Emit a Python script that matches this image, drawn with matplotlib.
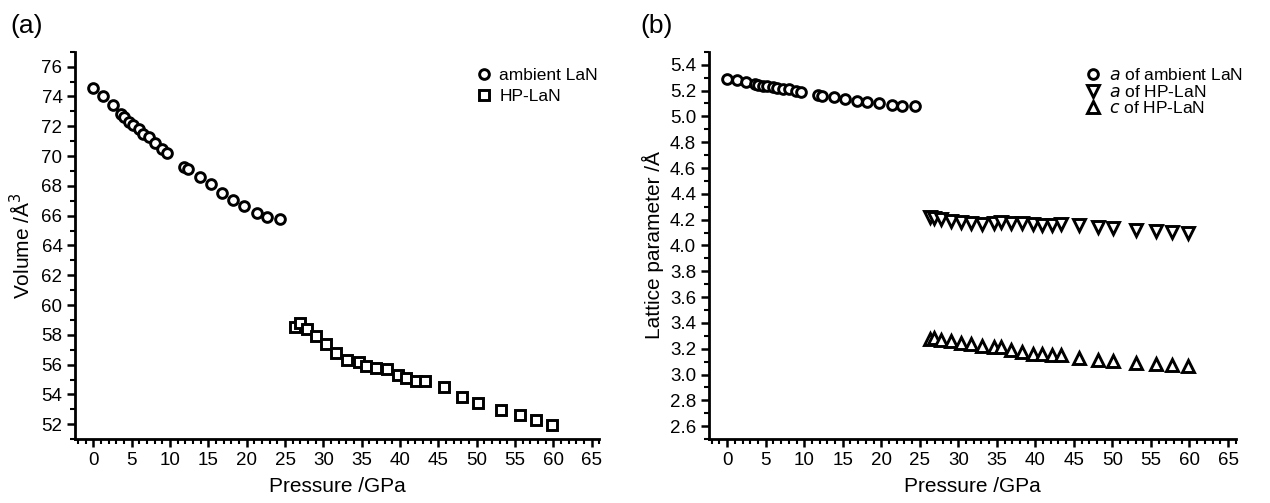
import numpy as np
import matplotlib
matplotlib.use("Agg")
import matplotlib.pyplot as plt
from matplotlib.ticker import MultipleLocator, FormatStrFormatter

plt.rcParams['font.family'] = ['Liberation Sans', 'DejaVu Sans']

# ambient LaN (rocksalt)
p_amb = [0.0, 1.3, 2.5, 3.6, 4.0, 4.7, 5.2, 5.9, 6.5, 7.2, 8.0, 8.9, 9.6,
         11.8, 12.3, 13.9, 15.3, 16.8, 18.2, 19.7, 21.4, 22.7, 24.4]
v_amb = [74.6, 74.0, 73.4, 72.8, 72.6, 72.3, 72.1, 71.8, 71.5, 71.3, 70.9, 70.5, 70.2,
         69.3, 69.1, 68.6, 68.1, 67.5, 67.05, 66.65, 66.2, 65.9, 65.8]
a_amb = [5.293, 5.28, 5.265, 5.25, 5.245, 5.238, 5.232, 5.225, 5.22, 5.215, 5.21, 5.2, 5.19,
         5.167, 5.16, 5.15, 5.136, 5.122, 5.11, 5.10, 5.09, 5.08, 5.08]

# HP-LaN
p_hp = [26.3, 26.9, 27.8, 29.1, 30.3, 31.6, 33.1, 34.6, 35.6, 36.9, 38.3, 39.7, 40.8,
        42.1, 43.3, 45.7, 48.1, 50.1, 53.1, 55.7, 57.7, 59.8]
v_hp = [58.5, 58.8, 58.4, 57.95, 57.4, 56.8, 56.3, 56.2, 55.9, 55.8, 55.7, 55.3, 55.1,
        54.9, 54.9, 54.5, 53.8, 53.4, 52.96, 52.65, 52.3, 51.95]
a_hp = [4.22, 4.215, 4.205, 4.19, 4.182, 4.175, 4.166, 4.171, 4.18, 4.174, 4.174, 4.166, 4.161,
        4.161, 4.166, 4.156, 4.14, 4.132, 4.122, 4.115, 4.107, 4.099]
c_hp = [3.272, 3.28, 3.269, 3.259, 3.248, 3.233, 3.22, 3.212, 3.212, 3.194, 3.171, 3.158, 3.158,
        3.153, 3.15, 3.129, 3.112, 3.104, 3.088, 3.083, 3.075, 3.065]

fig = plt.figure(figsize=(12.7, 5.03), dpi=100)
ax1 = fig.add_axes([0.059, 0.127, 0.413, 0.77])
ax2 = fig.add_axes([0.558, 0.127, 0.415, 0.77])

mk = dict(linestyle='none', markerfacecolor='white', markeredgecolor='black',
          markeredgewidth=2.1, clip_on=False)

ax1.plot(p_amb, v_amb, marker='o', markersize=7, label='ambient LaN', **mk)
ax1.plot(p_hp, v_hp, marker='s', markersize=6.5, label='HP-LaN', **mk)

ax2.plot(p_amb, a_amb, marker='o', markersize=7, label=r'$\it{a}$ of ambient LaN', **mk)
ax2.plot(p_hp, a_hp, marker='v', markersize=8.5, label=r'$\it{a}$ of HP-LaN', **mk)
ax2.plot(p_hp, c_hp, marker='^', markersize=8.5, label=r'$\it{c}$ of HP-LaN', **mk)

for ax in (ax1, ax2):
    ax.set_xlim(-2.4, 66)
    ax.xaxis.set_major_locator(MultipleLocator(5))
    ax.xaxis.set_minor_locator(MultipleLocator(1))
    for s in ('top', 'right'):
        ax.spines[s].set_visible(False)
    for s in ('left', 'bottom'):
        ax.spines[s].set_linewidth(2.0)
    ax.tick_params(which='major', direction='out', length=6, width=1.8, labelsize=13.5, pad=3)
    ax.tick_params(which='minor', direction='out', length=3.5, width=1.5)
    ax.set_xlabel('Pressure /GPa', fontsize=15, labelpad=6)

ax1.set_ylim(51, 77)
ax1.yaxis.set_major_locator(MultipleLocator(2))
ax1.yaxis.set_minor_locator(MultipleLocator(1))
ax1.set_ylabel('Volume /Å$^3$', fontsize=15, labelpad=5)

ax2.set_ylim(2.5, 5.5)
ax2.yaxis.set_major_locator(MultipleLocator(0.2))
ax2.yaxis.set_minor_locator(MultipleLocator(0.1))
ax2.yaxis.set_major_formatter(FormatStrFormatter('%.1f'))
ax2.set_ylabel('Lattice parameter /Å', fontsize=15, labelpad=4)

ax1.legend(loc='upper left', bbox_to_anchor=(0.73, 1.0), frameon=False, fontsize=12.5,
           handletextpad=0.3, labelspacing=0.35, handlelength=1.2)
ax2.legend(loc='upper left', bbox_to_anchor=(0.68, 1.0), frameon=False, fontsize=12.5,
           handletextpad=0.3, labelspacing=0.02, handlelength=1.2)

fig.text(0.008, 0.935, '(a)', fontsize=19)
fig.text(0.504, 0.935, '(b)', fontsize=19)

fig.savefig('out.png', dpi=100)
